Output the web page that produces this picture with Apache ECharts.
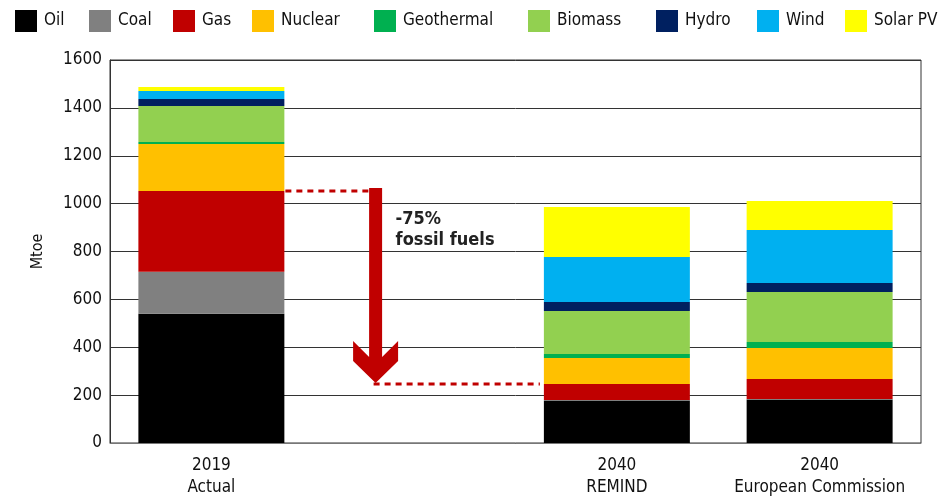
<!DOCTYPE html>
<html>
<head>
<meta charset="utf-8">
<script src="https://cdn.jsdelivr.net/npm/echarts@6/dist/echarts.min.js"></script>
<style>
  * { margin: 0; padding: 0; }
  body { background: #fff; }
  #chart { width: 949px; height: 499px; }
</style>
</head>
<body>
<div id="chart"></div>
<script>
// categories (second slot is left empty for the arrow)
const categories = ['2019\nActual', '', '2040\nREMIND', '2040\nEuropean Commission']

// Mtoe per source
const oil        = [540, '-', 178, 182]
const coal       = [175, '-', 2, 2]
const gas        = [338, '-', 66, 83]
const nuclear    = [196, '-', 109, 130]
const geothermal = [8,   '-', 17, 25]
const biomass    = [151, '-', 179, 209]
const hydro      = [29,  '-', 38, 37]
const wind       = [33,  '-', 188, 222]
const solar      = [17,  '-', 209, 121]

const yTicks = { min: 0, max: 1600, interval: 200 }

const seriesNames = ['Oil', 'Coal', 'Gas', 'Nuclear', 'Geothermal', 'Biomass', 'Hydro', 'Wind', 'Solar PV']
const seriesData = [oil, coal, gas, nuclear, geothermal, biomass, hydro, wind, solar]
const colors = ['#000000', '#808080', '#c00000', '#ffc000', '#00b050', '#92d050', '#002060', '#00b0f0', '#ffff00']
const legendLeft = [15, 89, 173, 252, 374, 528, 656, 757, 845]

const FONT = "'DejaVu Sans Condensed', 'Liberation Sans Narrow', sans-serif"

const chart = echarts.init(document.getElementById('chart'))

chart.setOption({
  animation: false,
  textStyle: { fontFamily: FONT },
  legend: seriesNames.map((n, i) => ({
    data: [n],
    left: legendLeft[i],
    top: 10,
    padding: 0,
    itemWidth: 22,
    itemHeight: 22,
    icon: 'rect',
    selectedMode: false,
    textStyle: { fontSize: 17, color: '#111', fontFamily: FONT, padding: [0, 0, 0, 2] }
  })),
  grid: {
    left: 110, right: 28, top: 60, bottom: 56,
    show: true, borderColor: '#333', borderWidth: 1
  },
  xAxis: {
    type: 'category',
    data: categories,
    axisTick: { show: false },
    axisLine: { lineStyle: { color: '#777' } },
    axisLabel: { interval: 0, fontSize: 17, color: '#111', lineHeight: 22, margin: 12, fontFamily: FONT }
  },
  yAxis: {
    type: 'value',
    min: yTicks.min, max: yTicks.max, interval: yTicks.interval,
    name: 'Mtoe',
    nameLocation: 'middle',
    nameGap: 64,
    nameTextStyle: { fontSize: 16, color: '#111', fontFamily: FONT },
    axisLine: { show: true, lineStyle: { color: '#333' } },
    axisTick: { show: false },
    axisLabel: { fontSize: 17, color: '#111', margin: 8, fontFamily: FONT, formatter: (v) => String(v) },
    splitLine: { lineStyle: { color: '#333', width: 1 } }
  },
  series: seriesNames.map((n, i) => ({
    name: n,
    type: 'bar',
    stack: 'total',
    barWidth: '72%',
    itemStyle: { color: colors[i] },
    data: seriesData[i]
  }))
})

// arrow + dashed guides, placed from the data through the axes
function drawArrow() {
  const px = (i) => chart.convertToPixel({ xAxisIndex: 0 }, i)
  const py = (v) => chart.convertToPixel({ yAxisIndex: 0 }, v)
  const band = px(1) - px(0)
  const fossilStart = oil[0] + coal[0] + gas[0]
  const fossilEnd = oil[2] + coal[2] + gas[2]
  const yTop = py(fossilStart)
  const yBot = py(fossilEnd)
  const bar1Right = px(0) + band * 0.36
  const bar2Left = px(2) - band * 0.36
  const ax = px(1) - band * 0.19   // arrow centre
  const tip = yBot - 1
  const red = '#c00000'
  chart.setOption({
    graphic: [
      {
        type: 'line', silent: true,
        shape: { x1: bar1Right + 1, y1: yTop, x2: ax - 7, y2: yTop },
        style: { stroke: red, lineWidth: 3, lineDash: [6, 5] }
      },
      {
        type: 'line', silent: true,
        shape: { x1: ax - 2, y1: yBot, x2: bar2Left - 4, y2: yBot },
        style: { stroke: red, lineWidth: 3, lineDash: [6, 5] }
      },
      {
        type: 'polygon', silent: true,
        shape: {
          points: [
            [ax - 6.5, yTop - 3], [ax + 6.5, yTop - 3],
            [ax + 6.5, tip - 26], [ax + 22.5, tip - 42], [ax + 22.5, tip - 22],
            [ax, tip],
            [ax - 22.5, tip - 22], [ax - 22.5, tip - 42], [ax - 6.5, tip - 26]
          ]
        },
        style: { fill: red }
      },
      {
        type: 'text', silent: true,
        left: ax + 20, top: yTop + 18,
        style: {
          text: '-75%\nfossil fuels',
          fontSize: 18, fontWeight: 'bold', lineHeight: 21,
          fill: '#222', fontFamily: FONT
        }
      }
    ]
  })
}
drawArrow()
</script>
</body>
</html>
